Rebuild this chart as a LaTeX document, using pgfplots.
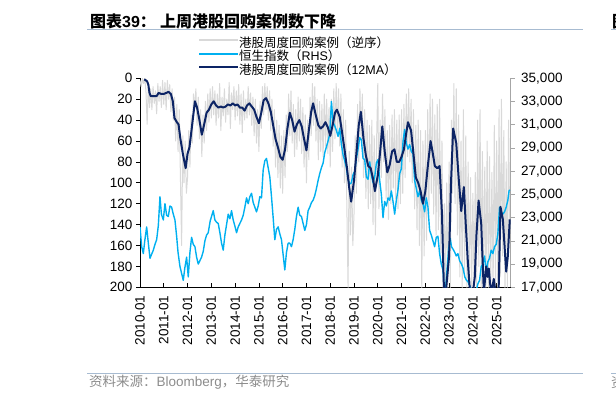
\documentclass[border=0pt]{standalone}
\usepackage{fontspec}
\setmainfont{Liberation Sans}
\newfontfamily\cjk{Noto Sans CJK SC}
\usepackage{pgfplots}
\pgfplotsset{compat=1.18}

\definecolor{weekgray}{HTML}{D9D9D9}
\definecolor{hsiblue}{HTML}{00B0F0}
\definecolor{navy}{HTML}{0C2465}
\definecolor{rulecol}{HTML}{A7BBD1}
\definecolor{srcgray}{HTML}{8C8C8C}
\definecolor{raxis}{HTML}{A6A6A6}

\pgfplotsset{
  base/.style={
    at={(140pt,-287.3pt)}, anchor=south west,
    scale only axis, width=370.7pt, height=209pt,
    xmin=2010, xmax=2025.59,
    tick label style={font=\fontsize{13.5}{15}\selectfont},
    /pgf/number format/assume math mode=true,
    major tick length=4pt,
  },
}

\begin{document}
\begin{tikzpicture}[x=1pt,y=-1pt]
\useasboundingbox (0,0) rectangle (616,403);

% title, rules, source
\node[anchor=west,inner sep=0pt] at (90,21.7) {\fontsize{16}{18}\selectfont\bfseries{\cjk 图表}39{\cjk ：}};
\node[anchor=west,inner sep=0pt] at (160,21.7) {\fontsize{16}{18}\selectfont{\cjk\bfseries 上周港股回购案例数下降}};
\node[anchor=west,inner sep=0pt] at (612,21.7) {\fontsize{16}{18}\selectfont{\cjk\bfseries 图}};
\draw[rulecol,line width=1pt] (87,29.3) -- (583,29.3);
\draw[rulecol,line width=1pt] (611,29.3) -- (616,29.3);
\draw[rulecol,line width=1pt] (87,373.3) -- (583,373.3);
\draw[rulecol,line width=1pt] (611,373.3) -- (616,373.3);
\node[anchor=west,inner sep=0pt,text=srcgray] at (89,382) {\fontsize{13.5}{15}\selectfont{\cjk 资料来源：}Bloomberg{\cjk ，华泰研究}};
\node[anchor=west,inner sep=0pt,text=srcgray] at (611,382) {\fontsize{13.5}{15}\selectfont{\cjk 资}};

% left axis: weekly buyback cases (reversed)
\begin{axis}[base,
  ymin=0, ymax=200, y dir=reverse,
  axis x line*=bottom, axis y line*=left,
  xtick={2010,...,2025},
  xticklabels={2010-01,2011-01,2012-01,2013-01,2014-01,2015-01,2016-01,2017-01,2018-01,2019-01,2020-01,2021-01,2022-01,2023-01,2024-01,2025-01},
  x tick label style={rotate=90,anchor=east},
  xticklabel shift=5pt,
  ytick={0,20,...,200},
  xtick align=inside, ytick align=outside,
  axis line style={black,line width=0.7pt},
  tick style={black,line width=0.7pt},
]
\addplot[weekgray,line width=1pt,line join=round] coordinates {
(2010.00,2) (2010.05,8) (2010.10,0) (2010.15,5) (2010.20,0) (2010.25,12) (2010.30,44) (2010.35,6) (2010.40,28) (2010.45,10)
(2010.50,30) (2010.55,8) (2010.60,24) (2010.65,12) (2010.70,34) (2010.75,5) (2010.80,22) (2010.85,8) (2010.90,28) (2010.95,2)
(2011.00,25) (2011.05,4) (2011.10,30) (2011.15,2) (2011.20,20) (2011.25,6) (2011.30,32) (2011.35,10) (2011.40,40) (2011.45,18)
(2011.50,60) (2011.55,25) (2011.60,70) (2011.65,30) (2011.70,95) (2011.75,160) (2011.80,55) (2011.85,100) (2011.90,60) (2011.95,110)
(2012.00,95) (2012.05,50) (2012.10,85) (2012.15,35) (2012.20,62) (2012.25,15) (2012.30,30) (2012.35,10) (2012.40,45) (2012.45,18)
(2012.50,58) (2012.55,30) (2012.60,75) (2012.65,35) (2012.70,62) (2012.75,22) (2012.80,50) (2012.85,15) (2012.90,42) (2012.95,10)
(2013.00,38) (2013.05,8) (2013.10,35) (2013.15,12) (2013.20,45) (2013.25,15) (2013.30,38) (2013.35,5) (2013.40,50) (2013.45,18)
(2013.50,36) (2013.55,10) (2013.60,42) (2013.65,20) (2013.70,35) (2013.75,4) (2013.80,48) (2013.85,14) (2013.90,30) (2013.95,8)
(2014.00,40) (2014.05,12) (2014.10,36) (2014.15,6) (2014.20,44) (2014.25,15) (2014.30,52) (2014.35,12) (2014.40,40) (2014.45,20)
(2014.50,38) (2014.55,8) (2014.60,35) (2014.65,14) (2014.70,45) (2014.75,18) (2014.80,55) (2014.85,20) (2014.90,62) (2014.95,30)
(2015.00,70) (2015.05,22) (2015.10,48) (2015.15,8) (2015.20,35) (2015.25,5) (2015.30,30) (2015.35,8) (2015.40,40) (2015.45,12)
(2015.50,50) (2015.55,20) (2015.60,65) (2015.65,30) (2015.70,85) (2015.75,40) (2015.80,95) (2015.85,45) (2015.90,105) (2015.95,55)
(2016.00,110) (2016.05,50) (2016.10,95) (2016.15,35) (2016.20,70) (2016.25,15) (2016.30,55) (2016.35,12) (2016.40,62) (2016.45,25)
(2016.50,75) (2016.55,30) (2016.60,68) (2016.65,18) (2016.70,60) (2016.75,20) (2016.80,72) (2016.85,28) (2016.90,85) (2016.95,35)
(2017.00,100) (2017.05,40) (2017.10,78) (2017.15,18) (2017.20,55) (2017.25,5) (2017.30,45) (2017.35,8) (2017.40,60) (2017.45,20)
(2017.50,78) (2017.55,22) (2017.60,70) (2017.65,25) (2017.70,75) (2017.75,15) (2017.80,65) (2017.85,20) (2017.90,72) (2017.95,28)
(2018.00,85) (2018.05,20) (2018.10,70) (2018.15,10) (2018.20,58) (2018.25,5) (2018.30,52) (2018.35,10) (2018.40,65) (2018.45,15)
(2018.50,85) (2018.55,30) (2018.60,100) (2018.65,40) (2018.70,125) (2018.75,200) (2018.80,70) (2018.85,150) (2018.90,85) (2018.95,160)
(2019.00,130) (2019.05,55) (2019.10,110) (2019.15,25) (2019.20,80) (2019.25,10) (2019.30,60) (2019.35,15) (2019.40,95) (2019.45,30)
(2019.50,115) (2019.55,40) (2019.60,125) (2019.65,45) (2019.70,120) (2019.75,40) (2019.80,140) (2019.85,55) (2019.90,150) (2019.95,60)
(2020.00,5) (2020.05,125) (2020.10,40) (2020.15,95) (2020.20,15) (2020.25,80) (2020.30,30) (2020.35,115) (2020.40,50) (2020.45,135)
(2020.50,45) (2020.55,120) (2020.60,35) (2020.65,105) (2020.70,30) (2020.75,115) (2020.80,40) (2020.85,125) (2020.90,35) (2020.95,120)
(2021.00,30) (2021.05,110) (2021.10,25) (2021.15,95) (2021.20,15) (2021.25,75) (2021.30,10) (2021.35,80) (2021.40,20) (2021.45,100)
(2021.50,30) (2021.55,125) (2021.60,45) (2021.65,145) (2021.70,40) (2021.75,160) (2021.80,50) (2021.85,200) (2021.90,60) (2021.95,170)
(2022.00,50) (2022.05,155) (2022.10,30) (2022.15,130) (2022.20,15) (2022.25,110) (2022.30,20) (2022.35,130) (2022.40,35) (2022.45,150)
(2022.50,25) (2022.55,145) (2022.60,20) (2022.65,170) (2022.70,60) (2022.75,200) (2022.80,120) (2022.85,200) (2022.90,100) (2022.95,200)
(2023.00,80) (2023.05,200) (2023.10,40) (2023.15,110) (2023.20,5) (2023.25,120) (2023.30,10) (2023.35,150) (2023.40,35) (2023.45,190)
(2023.50,60) (2023.55,200) (2023.60,30) (2023.65,190) (2023.70,55) (2023.75,200) (2023.80,80) (2023.85,200) (2023.90,95) (2023.95,200)
(2024.00,110) (2024.05,200) (2024.10,90) (2024.15,200) (2024.20,40) (2024.25,180) (2024.30,30) (2024.35,200) (2024.40,70) (2024.45,200)
(2024.50,85) (2024.55,200) (2024.60,60) (2024.65,200) (2024.70,75) (2024.75,200) (2024.80,90) (2024.85,200) (2024.90,45) (2024.95,200)
(2025.00,60) (2025.05,200) (2025.10,30) (2025.15,190) (2025.20,20) (2025.25,170) (2025.30,50) (2025.35,200) (2025.40,80) (2025.45,200)
(2025.50,40) (2025.55,150)
};
\end{axis}

% right axis: Hang Seng Index
\begin{axis}[base,
  ymin=17000, ymax=35000,
  axis x line=none, axis y line*=right,
  ytick={17000,19000,...,35000},
  scaled y ticks=false,
  /pgf/number format/.cd, 1000 sep={,}, /pgfplots/.cd,
  ytick align=outside,
  y tick label style={xshift=3pt},
  axis line style={raxis,line width=0.7pt},
  tick style={raxis,line width=0.7pt},
]
\addplot[hsiblue,line width=1.4pt,line join=round] coordinates {
(2010.00,22200) (2010.07,20500) (2010.14,19900) (2010.20,21000) (2010.28,22200) (2010.35,20800) (2010.42,19500) (2010.50,19900)
(2010.56,20200) (2010.63,20700) (2010.70,21100) (2010.77,22300) (2010.84,24800) (2010.90,23300) (2010.98,22800) (2011.05,24200)
(2011.12,23200) (2011.19,23100) (2011.26,24000) (2011.33,23900) (2011.40,23300) (2011.47,22800) (2011.54,21400) (2011.60,20000)
(2011.68,18800) (2011.75,18200) (2011.82,17600) (2011.88,18600) (2011.96,19600) (2012.03,17900) (2012.10,20000) (2012.17,21300)
(2012.24,20700) (2012.31,20500) (2012.38,19600) (2012.45,19000) (2012.52,19300) (2012.59,19600) (2012.66,20100) (2012.73,21000)
(2012.80,21500) (2012.87,21700) (2012.95,22700) (2013.08,23600) (2013.15,22800) (2013.22,22600) (2013.29,22500) (2013.36,21700)
(2013.43,20800) (2013.50,20200) (2013.57,21500) (2013.64,22400) (2013.71,23300) (2013.78,22900) (2013.85,23600) (2013.92,22800)
(2014.00,22200) (2014.06,21700) (2014.13,22200) (2014.20,22500) (2014.27,22800) (2014.34,23200) (2014.41,23900) (2014.48,24700)
(2014.55,24200) (2014.62,24800) (2014.69,25100) (2014.76,24300) (2014.83,23900) (2014.90,23500) (2014.97,24000) (2015.04,24800)
(2015.11,24700) (2015.18,27100) (2015.25,27900) (2015.32,28100) (2015.39,27300) (2015.46,26500) (2015.53,24800) (2015.60,23000)
(2015.67,21100) (2015.74,22000) (2015.81,22200) (2015.88,21600) (2015.95,21100) (2016.02,19800) (2016.09,18500) (2016.16,20000)
(2016.23,20800) (2016.30,20800) (2016.37,20500) (2016.44,21100) (2016.51,22000) (2016.58,23100) (2016.65,23900) (2016.72,23200)
(2016.79,23100) (2016.86,22500) (2016.93,21900) (2017.00,22400) (2017.07,23600) (2017.14,23900) (2017.21,24300) (2017.28,24500)
(2017.35,24900) (2017.42,25500) (2017.49,26200) (2017.56,26800) (2017.63,27300) (2017.70,27700) (2017.77,28600) (2017.84,29100)
(2017.91,29600) (2017.98,30200) (2018.05,33000) (2018.12,31200) (2018.19,30900) (2018.26,30500) (2018.33,30000) (2018.40,30700)
(2018.47,29300) (2018.54,28400) (2018.61,27900) (2018.68,27300) (2018.75,26300) (2018.82,25900) (2018.89,26000) (2018.96,26700)
(2019.03,27000) (2019.10,28100) (2019.17,28900) (2019.24,29900) (2019.31,29700) (2019.38,28100) (2019.45,28000) (2019.52,26500)
(2019.59,26300) (2019.66,27800) (2019.73,26700) (2019.80,26000) (2019.87,26500) (2019.94,27700) (2020.01,28000) (2020.08,26200)
(2020.15,25000) (2020.22,23000) (2020.29,24400) (2020.36,24000) (2020.43,24700) (2020.50,24500) (2020.57,25300) (2020.64,24400)
(2020.71,23300) (2020.78,24500) (2020.85,25400) (2020.92,26800) (2020.99,27200) (2021.06,29500) (2021.13,30600) (2021.20,29400)
(2021.27,28900) (2021.34,29300) (2021.41,28700) (2021.48,28500) (2021.55,26200) (2021.62,25500) (2021.69,24800) (2021.76,25300)
(2021.83,24500) (2021.90,24200) (2021.97,23500) (2022.04,24700) (2022.11,23900) (2022.18,21900) (2022.25,21500) (2022.32,21000)
(2022.39,20500) (2022.46,21300) (2022.53,21400) (2022.60,19900) (2022.67,19000) (2022.74,18500) (2022.79,17000) (2022.84,16500)
(2022.90,18200) (2022.98,20300) (2023.05,21200) (2023.10,20500) (2023.16,20300) (2023.24,20000) (2023.30,19700) (2023.37,19900)
(2023.44,19300) (2023.52,19000) (2023.58,18700) (2023.66,17900) (2023.73,17600) (2023.79,17500) (2023.87,17100) (2023.94,16800)
(2024.00,16500) (2024.07,16200) (2024.14,16700) (2024.21,17300) (2024.28,17600) (2024.35,18800) (2024.42,19000) (2024.49,19700)
(2024.56,18300) (2024.63,19200) (2024.70,19500) (2024.77,20200) (2024.84,19900) (2024.91,20500) (2024.98,20700) (2025.05,21600)
(2025.12,23900) (2025.19,23400) (2025.26,23300) (2025.33,23500) (2025.40,23900) (2025.47,24500) (2025.52,25300) (2025.55,25400)
};
\end{axis}

% 12-week moving average on top, with the legend
\begin{axis}[base,
  ymin=0, ymax=200, y dir=reverse,
  hide axis,
  legend image code/.code={\draw[#1] (0pt,4pt) -- (39pt,4pt);},
  legend style={at={(0.1565,1.1933)}, anchor=north west, draw=none, fill=none,
    inner sep=0pt, outer sep=0pt, row sep=1pt,
    font=\fontsize{12.5}{13.5}\selectfont,
    nodes={inner sep=0pt, text height=9.5pt, text depth=3pt},
    /tikz/every even column/.append style={column sep=3pt}},
  legend cell align=left,
]
\addlegendimage{draw=weekgray,line width=2pt}
\addlegendentry{{\cjk 港股周度回购案例（逆序）}}
\addlegendimage{draw=hsiblue,line width=2pt}
\addlegendentry{{\cjk 恒生指数（}RHS{\cjk ）}}
\addplot[navy,line width=2pt,line join=round] coordinates {
(2010.18,1) (2010.25,2) (2010.30,3) (2010.35,6) (2010.40,14) (2010.45,17) (2010.55,17) (2010.70,17) (2010.78,14) (2010.90,15)
(2011.00,15) (2011.10,14) (2011.20,13) (2011.30,15) (2011.38,22) (2011.45,38) (2011.55,42) (2011.62,44) (2011.70,58) (2011.80,72)
(2011.92,86) (2012.00,72) (2012.08,66) (2012.17,49) (2012.31,22) (2012.40,28) (2012.50,40) (2012.60,54) (2012.70,44) (2012.80,33)
(2012.90,30) (2013.00,25) (2013.10,22) (2013.20,26) (2013.30,28) (2013.40,27) (2013.50,28) (2013.60,27) (2013.70,25) (2013.80,26)
(2013.90,24) (2014.00,26) (2014.10,25) (2014.20,28) (2014.30,28) (2014.40,31) (2014.50,26) (2014.60,24) (2014.70,27) (2014.80,30)
(2014.90,37) (2015.00,43) (2015.10,33) (2015.20,21) (2015.30,19) (2015.40,24) (2015.50,32) (2015.60,45) (2015.70,58) (2015.80,66)
(2015.90,75) (2016.00,78) (2016.10,68) (2016.20,48) (2016.30,33) (2016.40,40) (2016.50,51) (2016.60,44) (2016.70,40) (2016.80,46)
(2016.90,58) (2017.00,69) (2017.10,50) (2017.20,32) (2017.28,24) (2017.40,36) (2017.50,45) (2017.60,48) (2017.70,46) (2017.80,42)
(2017.90,47) (2018.00,55) (2018.10,45) (2018.20,33) (2018.28,30) (2018.40,37) (2018.50,52) (2018.60,68) (2018.70,85) (2018.80,105)
(2018.88,118) (2019.00,98) (2019.10,72) (2019.20,45) (2019.29,32) (2019.40,58) (2019.50,74) (2019.60,84) (2019.70,86) (2019.80,96)
(2019.88,108) (2020.00,93) (2020.10,70) (2020.19,46) (2020.30,72) (2020.40,90) (2020.50,83) (2020.60,70) (2020.70,68) (2020.80,80)
(2020.90,80) (2021.00,75) (2021.10,68) (2021.20,52) (2021.27,42) (2021.40,50) (2021.50,72) (2021.60,95) (2021.70,100) (2021.80,108)
(2021.90,120) (2022.00,108) (2022.10,85) (2022.22,60) (2022.30,70) (2022.40,84) (2022.50,86) (2022.60,84) (2022.70,130) (2022.78,200)
(2022.86,205) (2022.92,190) (2023.00,170) (2023.08,100) (2023.17,48) (2023.30,62) (2023.40,95) (2023.51,127) (2023.62,104) (2023.70,140)
(2023.79,176) (2023.88,205) (2024.00,205) (2024.08,190) (2024.15,150) (2024.24,117) (2024.35,139) (2024.46,205) (2024.56,180) (2024.62,190)
(2024.67,182) (2024.72,196) (2024.78,205) (2024.88,192) (2024.95,205) (2025.08,205) (2025.16,123) (2025.26,135) (2025.33,160) (2025.40,185)
(2025.47,170) (2025.55,135)
};
\addlegendentry{{\cjk 港股周度回购案例（}12MA{\cjk ）}}
\end{axis}
\end{tikzpicture}
\end{document}
